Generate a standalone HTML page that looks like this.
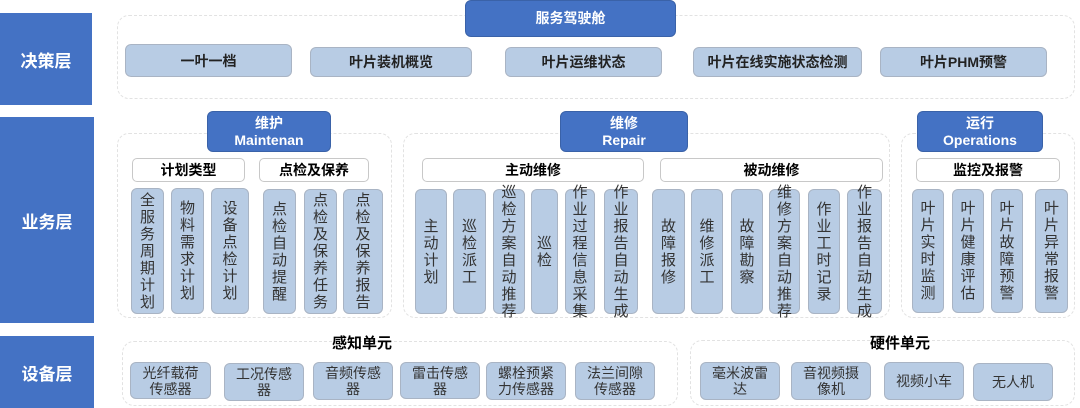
<!DOCTYPE html>
<html><head><meta charset="utf-8"><style>
body{margin:0;width:1080px;height:408px;background:#fff;position:relative;overflow:hidden;font-family:"Liberation Sans","Noto Sans CJK SC",sans-serif}
div{position:absolute;box-sizing:border-box}
.L{background:#4472C4;color:#fff;font-weight:bold;font-size:17px;display:flex;align-items:center;justify-content:center}
.C{border:1px dashed #e2e2e2;border-radius:12px}
.T{background:#4472C4;color:#fff;font-weight:bold;font-size:14px;border-radius:6px;text-align:center;line-height:17px;display:flex;align-items:center;justify-content:center;flex-direction:column;border:1px solid #3a62a8}
.B{background:#B8CCE4;border:1.5px solid #a9b4c4;border-radius:6px;display:flex;align-items:center;justify-content:center;text-align:center;font-size:14px;color:#222}
.D{font-weight:bold}
.H{border:1px solid #c8c8c8;border-radius:5px;background:#fff;font-weight:bold;font-size:14px;display:flex;align-items:center;justify-content:center}
.V{width:1em;font-size:15px;line-height:17px;color:#333}
.S{font-size:14px;line-height:16px;color:#333}
.W{font-weight:bold;font-size:15px}
</style></head><body>
<div class="L" style="left:0;top:13px;width:92px;height:92px">决策层</div>
<div class="L" style="left:0;top:117px;width:94px;height:206px">业务层</div>
<div class="L" style="left:0;top:336px;width:94px;height:72px">设备层</div>

<div class="C" style="left:117px;top:15px;width:958px;height:84px"></div>
<div class="T" style="left:465px;top:0;width:211px;height:37px">服务驾驶舱</div>
<div class="B D" style="left:125px;top:44px;width:167px;height:33px">一叶一档</div>
<div class="B D" style="left:310px;top:47px;width:162px;height:30px">叶片装机概览</div>
<div class="B D" style="left:505px;top:47px;width:157px;height:30px">叶片运维状态</div>
<div class="B D" style="left:693px;top:47px;width:169px;height:30px">叶片在线实施状态检测</div>
<div class="B D" style="left:880px;top:47px;width:167px;height:30px">叶片PHM预警</div>

<div class="C" style="left:117px;top:133px;width:275px;height:185px"></div>
<div class="T" style="left:207px;top:111px;width:124px;height:41px">维护<br>Maintenan</div>
<div class="H" style="left:132px;top:158px;width:113px;height:24px">计划类型</div>
<div class="H" style="left:259px;top:158px;width:110px;height:24px">点检及保养</div>
<div class="B" style="left:131px;top:188px;width:33px;height:126px"><span class="V">全服务周期计划</span></div>
<div class="B" style="left:171px;top:188px;width:33px;height:126px"><span class="V">物料需求计划</span></div>
<div class="B" style="left:211px;top:188px;width:38px;height:126px"><span class="V">设备点检计划</span></div>
<div class="B" style="left:263px;top:189px;width:33px;height:125px"><span class="V">点检自动提醒</span></div>
<div class="B" style="left:304px;top:189px;width:33px;height:125px"><span class="V">点检及保养任务</span></div>
<div class="B" style="left:343px;top:189px;width:40px;height:125px"><span class="V">点检及保养报告</span></div>

<div class="C" style="left:403px;top:133px;width:487px;height:185px"></div>
<div class="T" style="left:560px;top:111px;width:128px;height:41px">维修<br>Repair</div>
<div class="H" style="left:422px;top:158px;width:222px;height:24px">主动维修</div>
<div class="H" style="left:660px;top:158px;width:223px;height:24px">被动维修</div>
<div class="B" style="left:415px;top:189px;width:32px;height:125px"><span class="V">主动计划</span></div>
<div class="B" style="left:453px;top:189px;width:33px;height:125px"><span class="V">巡检派工</span></div>
<div class="B" style="left:493px;top:189px;width:32px;height:125px"><span class="V">巡检方案自动推荐</span></div>
<div class="B" style="left:531px;top:189px;width:27px;height:125px"><span class="V">巡检</span></div>
<div class="B" style="left:565px;top:189px;width:30px;height:125px"><span class="V">作业过程信息采集</span></div>
<div class="B" style="left:604px;top:189px;width:34px;height:125px"><span class="V">作业报告自动生成</span></div>
<div class="B" style="left:652px;top:189px;width:33px;height:125px"><span class="V">故障报修</span></div>
<div class="B" style="left:691px;top:189px;width:32px;height:125px"><span class="V">维修派工</span></div>
<div class="B" style="left:731px;top:189px;width:32px;height:125px"><span class="V">故障勘察</span></div>
<div class="B" style="left:769px;top:189px;width:31px;height:125px"><span class="V">维修方案自动推荐</span></div>
<div class="B" style="left:808px;top:189px;width:32px;height:125px"><span class="V">作业工时记录</span></div>
<div class="B" style="left:847px;top:189px;width:35px;height:125px"><span class="V">作业报告自动生成</span></div>

<div class="C" style="left:901px;top:133px;width:174px;height:185px"></div>
<div class="T" style="left:917px;top:111px;width:126px;height:41px">运行<br>Operations</div>
<div class="H" style="left:916px;top:158px;width:144px;height:24px">监控及报警</div>
<div class="B" style="left:912px;top:189px;width:32px;height:124px"><span class="V">叶片实时监测</span></div>
<div class="B" style="left:952px;top:189px;width:32px;height:124px"><span class="V">叶片健康评估</span></div>
<div class="B" style="left:991px;top:189px;width:32px;height:124px"><span class="V">叶片故障预警</span></div>
<div class="B" style="left:1035px;top:189px;width:33px;height:124px"><span class="V">叶片异常报警</span></div>

<div class="C" style="left:122px;top:341px;width:556px;height:65px"></div>
<div class="W" style="left:332px;top:332px">感知单元</div>
<div class="B" style="left:130px;top:362px;width:81px;height:37px"><span class="S">光纤载荷<br>传感器</span></div>
<div class="B" style="left:224px;top:363px;width:80px;height:38px"><span class="S">工况传感<br>器</span></div>
<div class="B" style="left:313px;top:362px;width:80px;height:38px"><span class="S">音频传感<br>器</span></div>
<div class="B" style="left:400px;top:362px;width:80px;height:37px"><span class="S">雷击传感<br>器</span></div>
<div class="B" style="left:486px;top:362px;width:80px;height:38px"><span class="S">螺栓预紧<br>力传感器</span></div>
<div class="B" style="left:575px;top:362px;width:80px;height:38px"><span class="S">法兰间隙<br>传感器</span></div>

<div class="C" style="left:690px;top:340px;width:385px;height:66px"></div>
<div class="W" style="left:870px;top:332px">硬件单元</div>
<div class="B" style="left:700px;top:362px;width:80px;height:38px"><span class="S">毫米波雷<br>达</span></div>
<div class="B" style="left:791px;top:362px;width:80px;height:38px"><span class="S">音视频摄<br>像机</span></div>
<div class="B" style="left:884px;top:362px;width:80px;height:38px"><span class="S">视频小车</span></div>
<div class="B" style="left:973px;top:363px;width:80px;height:38px"><span class="S">无人机</span></div>
</body></html>
